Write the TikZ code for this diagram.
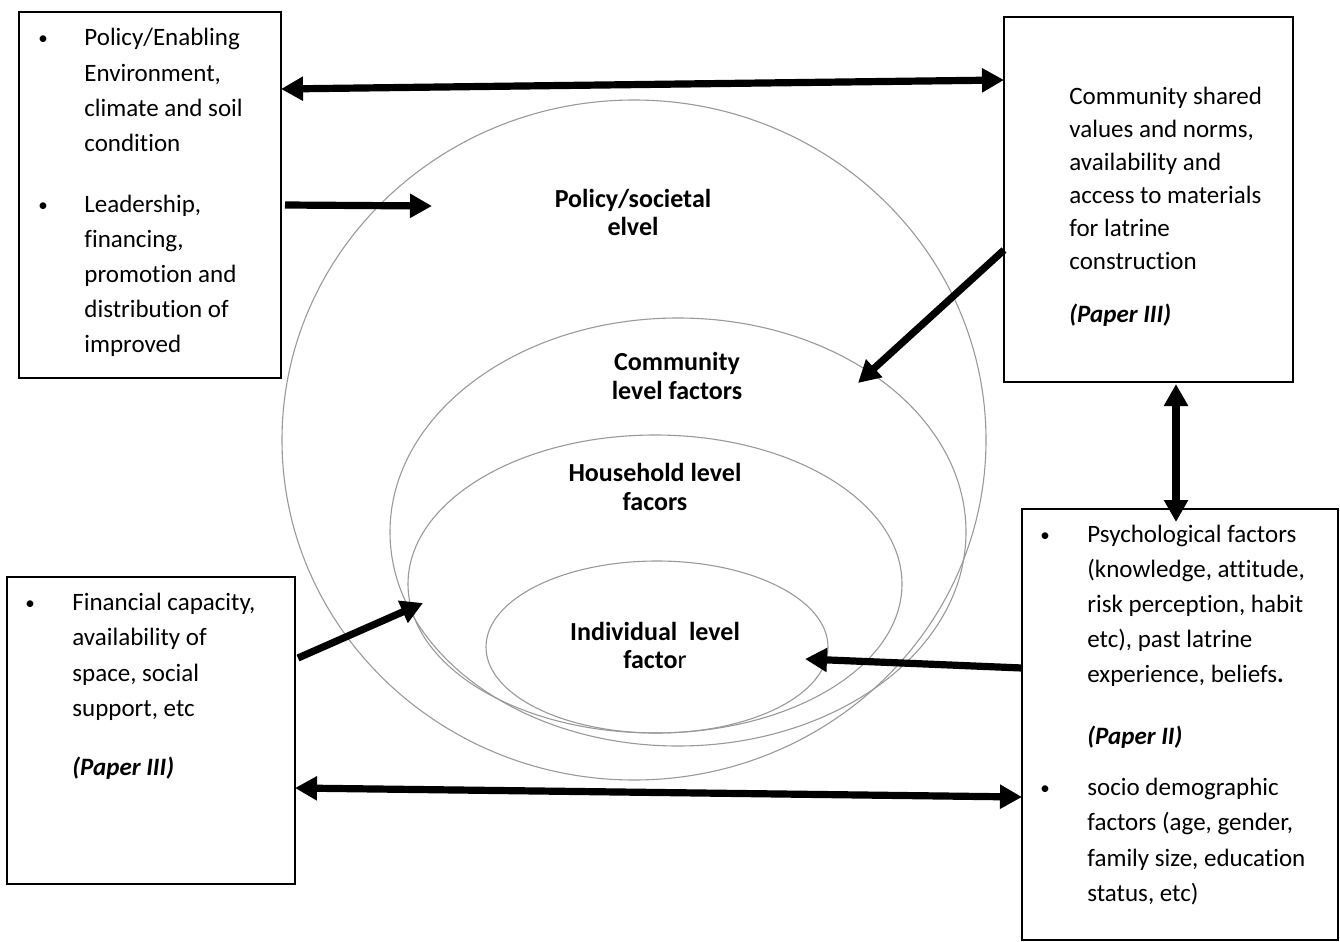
\documentclass[tikz,border=0pt]{standalone}
\usepackage{fontspec}
\setmainfont{Carlito}[Ligatures={NoCommon}]
\usetikzlibrary{arrows.meta,shapes.geometric,fit}
\begin{document}
\begin{tikzpicture}[x=0.5pt,y=-0.5pt,
  box/.style={draw, line width=0.8pt, inner sep=0pt},
  ring/.style={draw=black!40, line width=0.55pt, ellipse, inner sep=0pt},
  arr/.style={line width=3.6pt, -{Triangle[length=11pt,width=11.5pt]}},
  darr/.style={line width=3.6pt, {Triangle[length=11pt,width=11.5pt]}-{Triangle[length=11pt,width=11.5pt]}},
  txt/.style={anchor=base west, inner sep=0pt, font=\fontsize{12.5}{15}\selectfont},
  bul/.style={anchor=base, inner sep=0pt, font=\fontsize{9.5}{15}\selectfont},
  lab/.style={anchor=base, inner sep=0pt, font=\fontsize{13}{15}\selectfont\bfseries}]
\useasboundingbox (0,0) rectangle (1340,942);

% boxes
\coordinate (tla) at (19,12);   \coordinate (tlb) at (281,378);
\coordinate (tra) at (1004,17); \coordinate (trb) at (1293,382);
\coordinate (bra) at (1022,509);\coordinate (brb) at (1338,940);
\coordinate (bla) at (7,577);   \coordinate (blb) at (295,884);
\node[box, fit=(tla)(tlb)] (tl) {};
\node[box, fit=(tra)(trb)] (tr) {};
\node[box, fit=(bra)(brb)] (br) {};
\node[box, fit=(bla)(blb)] (bl) {};

% nested ellipses
\node[ring, minimum width=352pt, minimum height=340pt] (outer) at (634,440) {};
\node[ring, minimum width=288pt, minimum height=214pt] (comm) at (678,532) {};
\node[ring, minimum width=247pt, minimum height=149pt] (hh) at (655,584) {};
\node[ring, minimum width=171pt, minimum height=86pt] (ind) at (657,647) {};

% ellipse labels
\node[lab] (l1a) at (633,207) {Policy/societal};
\node[lab] (l1b) at (633,235) {elvel};
\node[lab] (l2a) at (677,370) {Community};
\node[lab] (l2b) at (677,399) {level factors};
\node[lab] (l3a) at (655,481) {Household level};
\node[lab] (l3b) at (655,510) {facors};
\node[lab] (l4a) at (655,640) {Individual\ \ level};
\node[lab] (l4b) at (655,668) {facto\mdseries r};

% top-left box text
\node[bul] (b1) at (43,45) {•};
\node[txt] (t1a) at (84,46) {Policy/Enabling};
\node[txt] (t1b) at (84,81) {Environment,};
\node[txt] (t1c) at (84,116) {climate and soil};
\node[txt] (t1d) at (84,151) {condition};
\node[bul] (b2) at (43,211) {•};
\node[txt] (t2a) at (84,212) {Leadership,};
\node[txt] (t2b) at (84,247) {financing,};
\node[txt] (t2c) at (84,282) {promotion and};
\node[txt] (t2d) at (84,317) {distribution of};
\node[txt] (t2e) at (84,352) {improved};

% top-right box text
\node[txt] (t3a) at (1069,104) {Community shared};
\node[txt] (t3b) at (1069,137) {values and norms,};
\node[txt] (t3c) at (1069,170) {availability and};
\node[txt] (t3d) at (1069,203) {access to materials};
\node[txt] (t3e) at (1069,236) {for latrine};
\node[txt] (t3f) at (1069,269) {construction};
\node[txt] (t3g) at (1069,322) {\textbf{\textit{(Paper III)}}};

% bottom-right box text
\node[bul] (b4) at (1045,541) {•};
\node[txt] (t4a) at (1087,542) {Psychological factors};
\node[txt] (t4b) at (1087,577) {(knowledge, attitude,};
\node[txt] (t4c) at (1087,612) {risk perception, habit};
\node[txt] (t4d) at (1087,647) {etc), past latrine};
\node[txt] (t4e) at (1087,682) {experience, beliefs\textbf{.}};
\node[txt] (t4f) at (1087,744) {\textbf{\textit{(Paper II)}}};
\node[bul] (b5) at (1045,794) {•};
\node[txt] (t5a) at (1087,795) {socio demographic};
\node[txt] (t5b) at (1087,830) {factors (age, gender,};
\node[txt] (t5c) at (1087,866) {family size, education};
\node[txt] (t5d) at (1087,901) {status, etc)};

% bottom-left box text
\node[bul] (b6) at (30,609) {•};
\node[txt] (t6a) at (72,610) {Financial capacity,};
\node[txt] (t6b) at (72,645) {availability of};
\node[txt] (t6c) at (72,681) {space, social};
\node[txt] (t6d) at (72,716) {support, etc};
\node[txt] (t6e) at (72,775) {\textbf{\textit{(Paper III)}}};

% arrow end points
\coordinate (a1s) at (281,89);   \coordinate (a1e) at (1004,80);
\coordinate (a2s) at (285,205);  \coordinate (a2e) at (432,206);
\coordinate (a3s) at (1004,250); \coordinate (a3e) at (858,383);
\coordinate (a4s) at (1176,384); \coordinate (a4e) at (1176,522);
\coordinate (a5s) at (1022,668); \coordinate (a5e) at (805,659);
\coordinate (a6s) at (298,658);  \coordinate (a6e) at (423,603);
\coordinate (a7s) at (295,788);  \coordinate (a7e) at (1022,797);

\draw[darr] (a1s) -- (a1e);
\draw[arr] (a2s) -- (a2e);
\draw[arr] (a3s) -- (a3e);
\draw[darr] (a4s) -- (a4e);
\draw[arr] (a5s) -- (a5e);
\draw[arr] (a6s) -- (a6e);
\draw[darr] (a7s) -- (a7e);
\end{tikzpicture}
\end{document}
